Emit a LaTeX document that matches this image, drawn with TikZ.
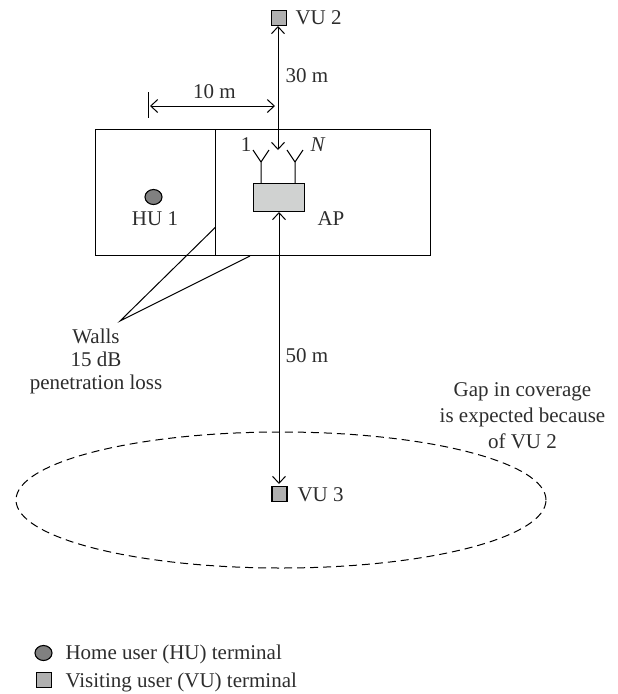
\documentclass[tikz,border=0pt]{standalone}
\usepackage{fontspec}
\setmainfont{Liberation Serif}
\usetikzlibrary{arrows.meta,positioning,calc,shapes.geometric}
\definecolor{LabelGray}{RGB}{45,45,45}
\definecolor{TermGray}{RGB}{176,176,176}
\definecolor{HomeGray}{RGB}{128,128,128}
\definecolor{BoxGray}{RGB}{208,210,209}
\tikzset{
  vuterm/.style={draw,fill=TermGray,line width=1.1pt,minimum size=15pt,inner sep=0pt},
  huterm/.style={draw,fill=HomeGray,ellipse,line width=1.1pt,minimum width=17pt,minimum height=15pt,inner sep=0pt},
  lbl/.style={text=LabelGray,inner sep=0pt,font=\fontsize{21}{23}\selectfont},
  room/.style={draw,line width=1pt,inner sep=0pt},
}
\begin{document}
\begin{tikzpicture}[x=1pt,y=-1pt,line width=1pt,>={Straight Barb[length=7pt,width=13pt]}]
  \useasboundingbox (0,0) rectangle (618,694);
  % rooms
  \node[room,minimum width=335pt,minimum height=126pt] (bldg) at (262.5,192) {};
  \coordinate (walltop) at (215.7,129);
  \coordinate (wallbot) at (215.7,255);
  \draw (walltop) -- (wallbot);
  % access point and antennas
  \node[draw,fill=BoxGray,minimum width=51pt,minimum height=28pt,inner sep=0pt] (apbox) at (278.5,197) {};
  \coordinate (antA) at (261,162);
  \coordinate (antB) at (295,162);
  \coordinate (antAfoot) at (261,183);
  \coordinate (antBfoot) at (295,183);
  \draw (antAfoot) -- (antA) -- ++(-8,-12);
  \draw (antA) -- ++(8,-12);
  \draw (antBfoot) -- (antB) -- ++(-8,-12);
  \draw (antB) -- ++(8,-12);
  \node[lbl] (one) at (246,145) {1};
  \node[lbl] (nant) at (318,145) {\textit{N}};
  \node[lbl] (ap) at (331,219) {AP};
  % terminals
  \node[vuterm] (vutwo) at (279,18) {};
  \node[vuterm] (vuthree) at (279.5,494) {};
  \node[huterm] (hu) at (153.5,197) {};
  \node[lbl,anchor=west] (vutwolbl) at (295,18) {VU 2};
  \node[lbl,anchor=west] (vuthreelbl) at (297,495) {VU 3};
  \node[lbl] (hulbl) at (155,219) {HU 1};
  % links
  \coordinate (tiptop) at (278,150);
  \coordinate (tipvu) at (278,26);
  \coordinate (apfoot) at (279,212);
  \coordinate (tipthree) at (279,484);
  \draw[<->] (tipvu) -- (tiptop);
  \draw[<->] (apfoot) -- (tipthree);
  \node[lbl] (thirty) at (307,76) {30 m};
  \node[lbl] (fifty) at (307,356) {50 m};
  % ten metre span
  \coordinate (bartop) at (148,92);
  \coordinate (barbot) at (148,118);
  \coordinate (spanL) at (150,106);
  \coordinate (spanR) at (275,106);
  \draw (bartop) -- (barbot);
  \draw[<->] (spanL) -- (spanR);
  \node[lbl] (ten) at (214.5,92) {10 m};
  % walls callout
  \coordinate (wallmeet) at (120,321);
  \coordinate (wallA) at (215.7,227);
  \coordinate (wallB) at (250,256);
  \draw (wallA) -- (wallmeet) -- (wallB);
  \node[lbl,align=center] (walls) at (96,361) {Walls\\15 dB\\penetration loss};
  % coverage
  \node[draw,dash pattern=on 8pt off 5pt,ellipse,minimum width=530pt,minimum height=136pt,inner sep=0pt] (gap) at (281,500) {};
  \node[lbl,align=center,font=\fontsize{21}{26}\selectfont] (gaplbl) at (522.5,416) {Gap in coverage\\is expected because\\of VU 2};
  % legend
  \node[huterm] (keyhu) at (43.5,653) {};
  \node[vuterm] (keyvu) at (44,680) {};
  \node[lbl,anchor=west] (keyhulbl) at (65,654) {Home user (HU) terminal};
  \node[lbl,anchor=west] (keyvulbl) at (65,682) {Visiting user (VU) terminal};
\end{tikzpicture}
\end{document}
